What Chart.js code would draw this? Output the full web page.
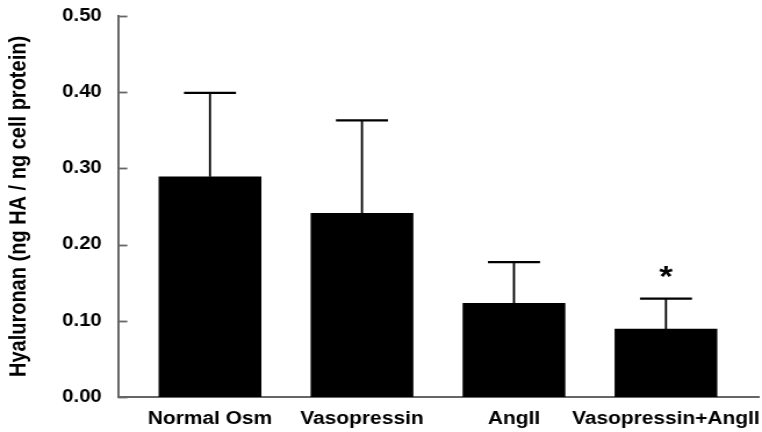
<!DOCTYPE html>
<html><head><meta charset="utf-8">
<script src="https://cdn.jsdelivr.net/npm/chart.js@4"></script>
<style>html,body{margin:0;padding:0;background:#fff;overflow:hidden}
#c{display:block;width:762px;height:432px}</style></head>
<body><canvas id="c" width="656" height="432" style="width:762px;height:432px"></canvas>
<script>
const categories = ['Normal Osm', 'Vasopressin', 'AngII', 'Vasopressin+AngII'];
const means = [0.289, 0.241, 0.123, 0.089];
const errors = [0.110, 0.122, 0.054, 0.040];
const marks = ['', '', '', '*'];
const yTicks = [0.00, 0.10, 0.20, 0.30, 0.40, 0.50];
const yTitle = 'Hyaluronan (ng HA / ng cell protein)';

const FONT = "'Liberation Sans', Arial, sans-serif";

const extras = {
  id: 'extras',
  afterDatasetsDraw(chart) {
    const ctx = chart.ctx, x = chart.scales.x, y = chart.scales.y;
    ctx.save();
    ctx.strokeStyle = '#666';
    ctx.lineWidth = 1.8;
    yTicks.forEach(v => {
      const py = Math.round(y.getPixelForValue(v)) + 0.5;
      ctx.beginPath();
      ctx.moveTo(chart.chartArea.left, py);
      ctx.lineTo(chart.chartArea.left + 8, py);
      ctx.stroke();
    });
    ctx.strokeStyle = '#000';
    const capHalf = 22.4;
    means.forEach((m, i) => {
      const px = x.getPixelForValue(i);
      const pm = y.getPixelForValue(m);
      const pt = y.getPixelForValue(m + errors[i]);
      ctx.lineWidth = 1.8;
      ctx.beginPath();
      ctx.moveTo(px, pm);
      ctx.lineTo(px, pt);
      ctx.stroke();
      ctx.lineWidth = 2.2;
      ctx.beginPath();
      ctx.moveTo(px - capHalf, pt);
      ctx.lineTo(px + capHalf, pt);
      ctx.stroke();
      if (marks[i]) {
        ctx.fillStyle = '#000';
        ctx.font = 'bold 30px ' + FONT;
        ctx.textAlign = 'center';
        ctx.textBaseline = 'alphabetic';
        const mt = ctx.measureText(marks[i]);
        const cy = pt - 27;
        const base = cy + (mt.actualBoundingBoxAscent - mt.actualBoundingBoxDescent) / 2;
        ctx.fillText(marks[i], px, base);
      }
    });
    ctx.restore();
  }
};

function zeroPad(s) {
  s.paddingLeft = 0; s.paddingRight = 0; s.paddingTop = 0; s.paddingBottom = 0;
}

new Chart(document.getElementById('c'), {
  type: 'bar',
  data: {
    datasets: [{
      data: means.map((v, i) => ({ x: i, y: v })),
      backgroundColor: '#000',
      borderWidth: 0,
      barThickness: 87.8
    }]
  },
  options: {
    responsive: false,
    animation: false,
    devicePixelRatio: 1,
    layout: { autoPadding: false, padding: { top: 16, right: 2.6, left: 0, bottom: 0 } },
    plugins: { legend: { display: false }, tooltip: { enabled: false } },
    scales: {
      x: {
        type: 'linear',
        offset: false,
        min: -0.605,
        max: 3.612,
        afterBuildTicks: s => { s.ticks = categories.map((_, i) => ({ value: i })); },
        afterFit: s => { s.height = 35; zeroPad(s); },
        grid: { display: false, drawTicks: false, offset: false },
        border: { display: true, color: '#666', width: 2 },
        ticks: {
          callback: v => categories[v],
          font: { family: FONT, size: 18, weight: 'bold' },
          color: '#000',
          padding: 11,
          maxRotation: 0,
          autoSkip: false
        }
      },
      y: {
        min: 0,
        max: 0.5,
        afterBuildTicks: s => { s.ticks = yTicks.map(v => ({ value: v })); },
        afterFit: s => { s.width = 101.6; zeroPad(s); },
        grid: { display: false, drawTicks: false },
        border: { display: true, color: '#666', width: 2 },
        ticks: {
          callback: v => Number(v).toFixed(2),
          font: { family: FONT, size: 17.5, weight: 'bold' },
          color: '#000',
          padding: 14
        },
        title: {
          display: true,
          text: yTitle,
          font: { family: FONT, size: 20, weight: 'bold' },
          color: '#000',
          padding: { top: 4, bottom: 0 }
        }
      }
    }
  },
  plugins: [extras]
});
</script>
</body></html>
